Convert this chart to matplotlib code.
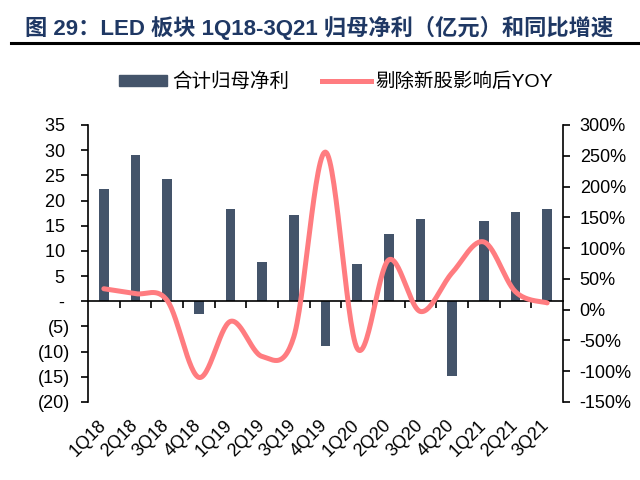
import matplotlib
matplotlib.use("Agg")
import matplotlib.pyplot as plt
import numpy as np
from matplotlib.lines import Line2D
from matplotlib.patches import Patch

categories = ["1Q18", "2Q18", "3Q18", "4Q18", "1Q19", "2Q19", "3Q19", "4Q19",
              "1Q20", "2Q20", "3Q20", "4Q20", "1Q21", "2Q21", "3Q21"]
net_profit = [22.3, 29.1, 24.3, -2.6, 18.4, 7.8, 17.2, -8.9,
              7.4, 13.3, 16.4, -14.9, 16.0, 17.8, 18.3]
yoy = [34, 26, 15, -110, -19, -76, -44, 256, -63, 81, -3, 60, 110, 29, 11]

left_ticks = [35, 30, 25, 20, 15, 10, 5, 0, -5, -10, -15, -20]
right_ticks = [300, 250, 200, 150, 100, 50, 0, -50, -100, -150]

BAR = "#44546A"
LINE = "#FF7C80"
TITLE = "#1F3864"
FONTS = ["Liberation Sans", "Noto Sans CJK SC", "DejaVu Sans"]
plt.rcParams['font.family'] = FONTS


def smooth(xs, ys, n=30):
    xs = np.asarray(xs, float)
    ys = np.asarray(ys, float)
    px = np.concatenate([[xs[0]], xs, [xs[-1]]])
    py = np.concatenate([[ys[0]], ys, [ys[-1]]])
    ox, oy = [], []
    for i in range(1, len(px) - 2):
        p0, p1, p2, p3 = (np.array([px[j], py[j]]) for j in (i - 1, i, i + 1, i + 2))
        c1 = p1 + (p2 - p0) / 6.0
        c2 = p2 - (p3 - p1) / 6.0
        t = np.linspace(0, 1, n, endpoint=(i == len(px) - 3))
        b = ((1 - t) ** 3)[:, None] * p1 + (3 * (1 - t) ** 2 * t)[:, None] * c1 \
            + (3 * (1 - t) * t ** 2)[:, None] * c2 + (t ** 3)[:, None] * p2
        ox.extend(b[:, 0]); oy.extend(b[:, 1])
    return np.array(ox), np.array(oy)


fig = plt.figure(figsize=(6.4, 4.8), dpi=100)
ax = fig.add_axes([0.1375, 0.1625, 0.7422, 0.5771])
x = np.arange(len(categories))
ax.bar(x, net_profit, width=0.3, color=BAR, zorder=2)
ax.set_xlim(-0.5, len(categories) - 0.5)
ax.set_ylim(-20, 35)
ax.set_yticks(left_ticks)


def lfmt(v):
    if v == 0:
        return "- "
    if v < 0:
        return "(%d)" % (-v)
    return "%d " % v


ax.set_yticklabels([lfmt(v) for v in left_ticks])
ax.tick_params(axis='y', direction='out', length=5, width=1.2, pad=8, labelsize=13)
for s in ['top', 'right']:
    ax.spines[s].set_visible(False)
ax.spines['left'].set_linewidth(1.2)
ax.spines['bottom'].set_position(('data', 0))
ax.spines['bottom'].set_linewidth(1.2)
ax.spines['bottom'].set_zorder(3)
ax.set_xticks(x[:-1] + 0.5)
ax.set_xticklabels([])
ax.tick_params(axis='x', which='major', direction='out', length=5, width=1.2)
ax.minorticks_off()
for xi, lab in zip(x, categories):
    ax.text(xi - 0.2, -0.055, lab, transform=ax.get_xaxis_transform(),
            rotation=45, ha='right', va='top', rotation_mode='anchor', fontsize=13)

ax2 = ax.twinx()
ax2.set_ylim(-150, 300)
ax2.set_yticks(right_ticks)
ax2.set_yticklabels(["%d%%" % v for v in right_ticks])
ax2.tick_params(axis='y', direction='out', length=5, width=1.2, pad=7, labelsize=13)
for s in ['top', 'left', 'bottom']:
    ax2.spines[s].set_visible(False)
ax2.spines['right'].set_linewidth(1.2)
sx, sy = smooth(x, yoy)
ax2.plot(sx, sy, color=LINE, lw=3.6, solid_capstyle='round', zorder=3)

fig.text(0.039, 0.942, "图 29：LED 板块 1Q18-3Q21 归母净利（亿元）和同比增速",
         fontsize=16, fontweight='bold', color=TITLE, ha='left', va='center')
fig.add_artist(Line2D([0.017, 1.0], [0.910, 0.910], color='black', lw=2.2,
                      transform=fig.transFigure))

handles = [Patch(color=BAR), Line2D([0], [0], color=LINE, lw=3.6)]
fig.legend(handles, ["合计归母净利", "剔除新股影响后YOY"], loc='center',
           bbox_to_anchor=(0.525, 0.829), ncol=2, frameon=False, fontsize=14,
           handlelength=2.5, handleheight=0.5, columnspacing=1.7, handletextpad=0.25)

fig.savefig("out.png", dpi=100)
